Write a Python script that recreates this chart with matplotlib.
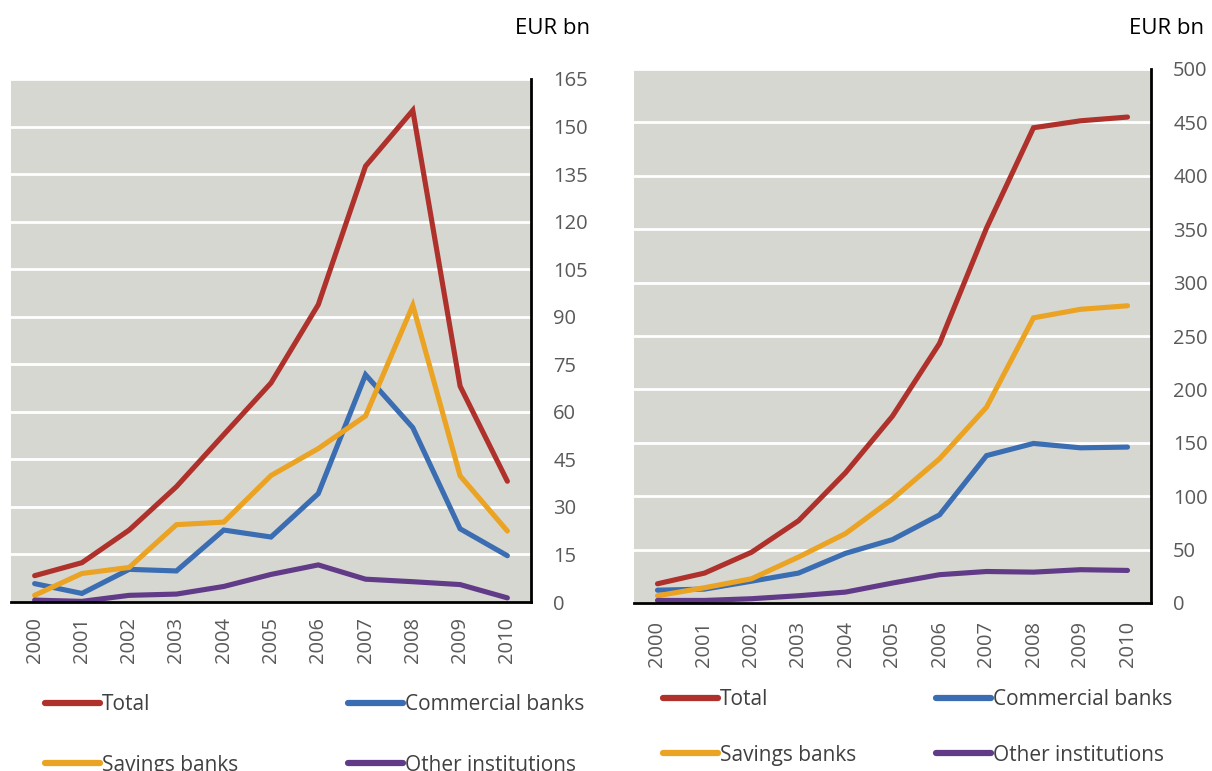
import matplotlib
matplotlib.use("Agg")
import matplotlib.pyplot as plt
import numpy as np

plt.rcParams['font.family'] = ['Open Sans', 'DejaVu Sans']

years = ['2000', '2001', '2002', '2003', '2004', '2005', '2006', '2007', '2008', '2009', '2010']
series_names = ['Total', 'Commercial banks', 'Savings banks', 'Other institutions']

# Left panel (annual flows, EUR bn)
left_total      = [8.3, 12.4, 22.7, 36.4, 52.8, 69.1, 93.8, 137.5, 155.1, 68.1, 38.1]
left_commercial = [5.8, 2.7, 10.3, 9.8, 22.7, 20.5, 34.2, 71.7, 55.0, 23.1, 14.6]
left_savings    = [2.1, 9.0, 10.9, 24.4, 25.2, 39.9, 48.4, 58.7, 93.6, 39.8, 22.4]
left_other      = [0.6, 0.2, 2.1, 2.5, 4.9, 8.7, 11.7, 7.2, 6.4, 5.5, 1.3]

# Right panel (stocks, EUR bn)
right_total      = [18, 28, 47.5, 77, 122, 175, 243, 351, 445, 451.5, 455]
right_commercial = [12, 13, 20.4, 28, 46.5, 59.4, 82.5, 138, 149.4, 145.3, 146]
right_savings    = [6.8, 14.3, 22.7, 43, 65, 97.4, 135, 183.3, 267, 275, 278.3]
right_other      = [2.4, 2.4, 4, 6.8, 10.2, 18.7, 26.5, 29.5, 28.9, 31.2, 30.5]

left_yticks = list(range(0, 166, 15))
right_yticks = list(range(0, 501, 50))

colors = ['#AF312B', '#3A6DB1', '#EBA324', '#613B88']
bg = '#D7D7D2'

W, H = 1212, 771
fig = plt.figure(figsize=(W / 100, H / 100), dpi=100)

def make_panel(rect, data, yticks, unit_xy, legend_xy, xpad, colsp, rowsp):
    l, t, r, b = rect
    ax = fig.add_axes([l / W, 1 - b / H, (r - l) / W, (b - t) / H])
    ax.set_facecolor(bg)
    x = np.arange(len(years))
    lines = []
    for vals, c, name in zip(data, colors, series_names):
        ln, = ax.plot(x, vals, color=c, lw=3.7, solid_capstyle='round',
                      solid_joinstyle='miter', label=name, zorder=3)
        lines.append(ln)
    ax.set_xlim(-0.5, len(years) - 0.5)
    ax.set_ylim(yticks[0], yticks[-1])
    ax.set_yticks(yticks)
    ax.set_yticklabels([str(v) for v in yticks])
    ax.yaxis.tick_right()
    ax.tick_params(axis='y', length=0, pad=16, labelsize=14.5, labelcolor='#595959')
    for lab in ax.get_yticklabels():
        lab.set_horizontalalignment('left')
    ax.set_xticks(x)
    ax.set_xticklabels(years, rotation=90)
    ax.tick_params(axis='x', length=0, pad=xpad, labelsize=14.5, labelcolor='#595959')
    ax.grid(axis='y', color='white', lw=2, zorder=1)
    ax.set_axisbelow(True)
    for s in ['left', 'top']:
        ax.spines[s].set_visible(False)
    for s in ['right', 'bottom']:
        ax.spines[s].set_color('black')
        ax.spines[s].set_linewidth(2)
        ax.spines[s].set_zorder(4)
    fig.text(unit_xy[0] / W, 1 - unit_xy[1] / H, 'EUR bn', ha='center', va='center',
             fontsize=16, color='black')
    order = [0, 2, 1, 3]
    leg = fig.legend([lines[i] for i in order], [series_names[i] for i in order],
                     ncol=2, loc='upper left',
                     bbox_to_anchor=(legend_xy[0] / W, 1 - legend_xy[1] / H),
                     frameon=False, fontsize=15, handlelength=2.64, handletextpad=0.1,
                     columnspacing=colsp, labelspacing=rowsp, borderpad=0, borderaxespad=0)
    for txt in leg.get_texts():
        txt.set_color('#404040')
    for h in leg.get_lines():
        h.set_linewidth(4.5)
    return ax

make_panel((11, 79, 531, 602),
           [left_total, left_commercial, left_savings, left_other],
           left_yticks, (553, 28), (45, 694), 11, 5.28, 1.9)
make_panel((634, 69, 1151, 603),
           [right_total, right_commercial, right_savings, right_other],
           right_yticks, (1167, 28), (663, 689), 13, 3.8, 1.66)

fig.savefig('out.png', dpi=100)
